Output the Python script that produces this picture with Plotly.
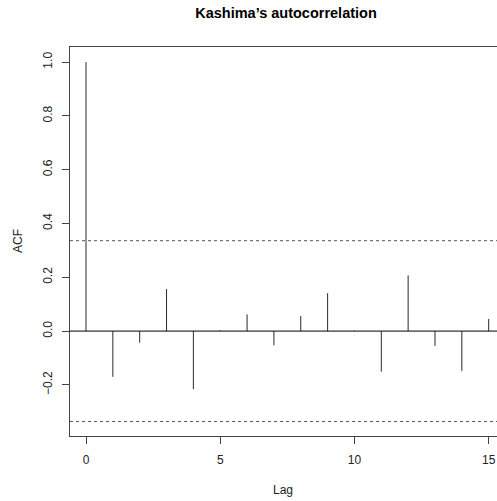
import plotly.graph_objects as go

lags = list(range(16))
acf = [1.0, -0.170, -0.043, 0.156, -0.216, 0.003, 0.062, -0.053,
       0.056, 0.141, 0.002, -0.151, 0.207, -0.055, -0.148, 0.045]
ci = 0.336
x_ticks = [0, 5, 10, 15]
y_ticks = [-0.2, 0.0, 0.2, 0.4, 0.6, 0.8, 1.0]
title = "Kashima’s autocorrelation"

stem_x, stem_y = [], []
for l, v in zip(lags, acf):
    stem_x += [l, l, None]
    stem_y += [0, v, None]

W, H = 497, 501
L, R, T, B = 70, 0, 47, 65
FONT = "Liberation Sans, Arial, Helvetica, sans-serif"
fig = go.Figure()
fig.add_trace(go.Scatter(x=stem_x, y=stem_y, mode="lines",
                         line=dict(color="#2a2a2a", width=1), hoverinfo="skip"))

xr = [-0.596, 15.31]
fig.add_shape(type="line", xref="paper", yref="y", x0=0, x1=1, y0=0, y1=0,
              line=dict(color="black", width=1))
for c in (ci, -ci):
    fig.add_shape(type="line", xref="paper", yref="y", x0=0, x1=1, y0=c, y1=c,
                  line=dict(color="#555555", width=1, dash="3px,3px"))

pw, ph = W - L - R, H - T - B
def px_x(p):
    return (p - L) / pw
def px_y(p):
    return (H - B - p) / ph

fig.add_annotation(text="Lag", xref="paper", yref="paper", x=px_x(283), y=px_y(490),
                   showarrow=False, xanchor="center", yanchor="middle",
                   font=dict(family=FONT, size=12, color="#222222"))
fig.add_annotation(text="ACF", xref="paper", yref="paper", x=px_x(18), y=px_y(241),
                   showarrow=False, xanchor="center", yanchor="middle", textangle=-90,
                   font=dict(family=FONT, size=12, color="#222222"))

fig.update_layout(
    width=W, height=H,
    margin=dict(l=L, r=R, t=T, b=B, autoexpand=False),
    plot_bgcolor="white", paper_bgcolor="white",
    showlegend=False,
    font=dict(family=FONT, size=12, color="#222222"),
    title=dict(text="<b>" + title + "</b>", x=286 / W, xanchor="center",
               y=1 - 13 / H, yanchor="middle",
               font=dict(family=FONT, size=14.5, color="black")),
    xaxis=dict(range=xr, tickvals=x_ticks, ticktext=[str(t) for t in x_ticks],
               showgrid=False, zeroline=False, showline=True, mirror=True,
               linecolor="#444444", linewidth=1, ticks="outside", ticklen=7,
               tickcolor="#444444", ticklabelstandoff=6, automargin=False),
    yaxis=dict(range=[-0.390, 1.056], tickvals=y_ticks,
               ticktext=["−0.2", "0.0", "0.2", "0.4", "0.6", "0.8", "1.0"],
               tickangle=-90,
               showgrid=False, zeroline=False, showline=True, mirror=False,
               linecolor="#444444", linewidth=1, ticks="outside", ticklen=7,
               tickcolor="#444444", ticklabelstandoff=5, automargin=False),
)
fig.write_html("out.html", config={"displayModeBar": False},
               post_script="document.body.style.margin='0';document.body.style.padding='0';")
